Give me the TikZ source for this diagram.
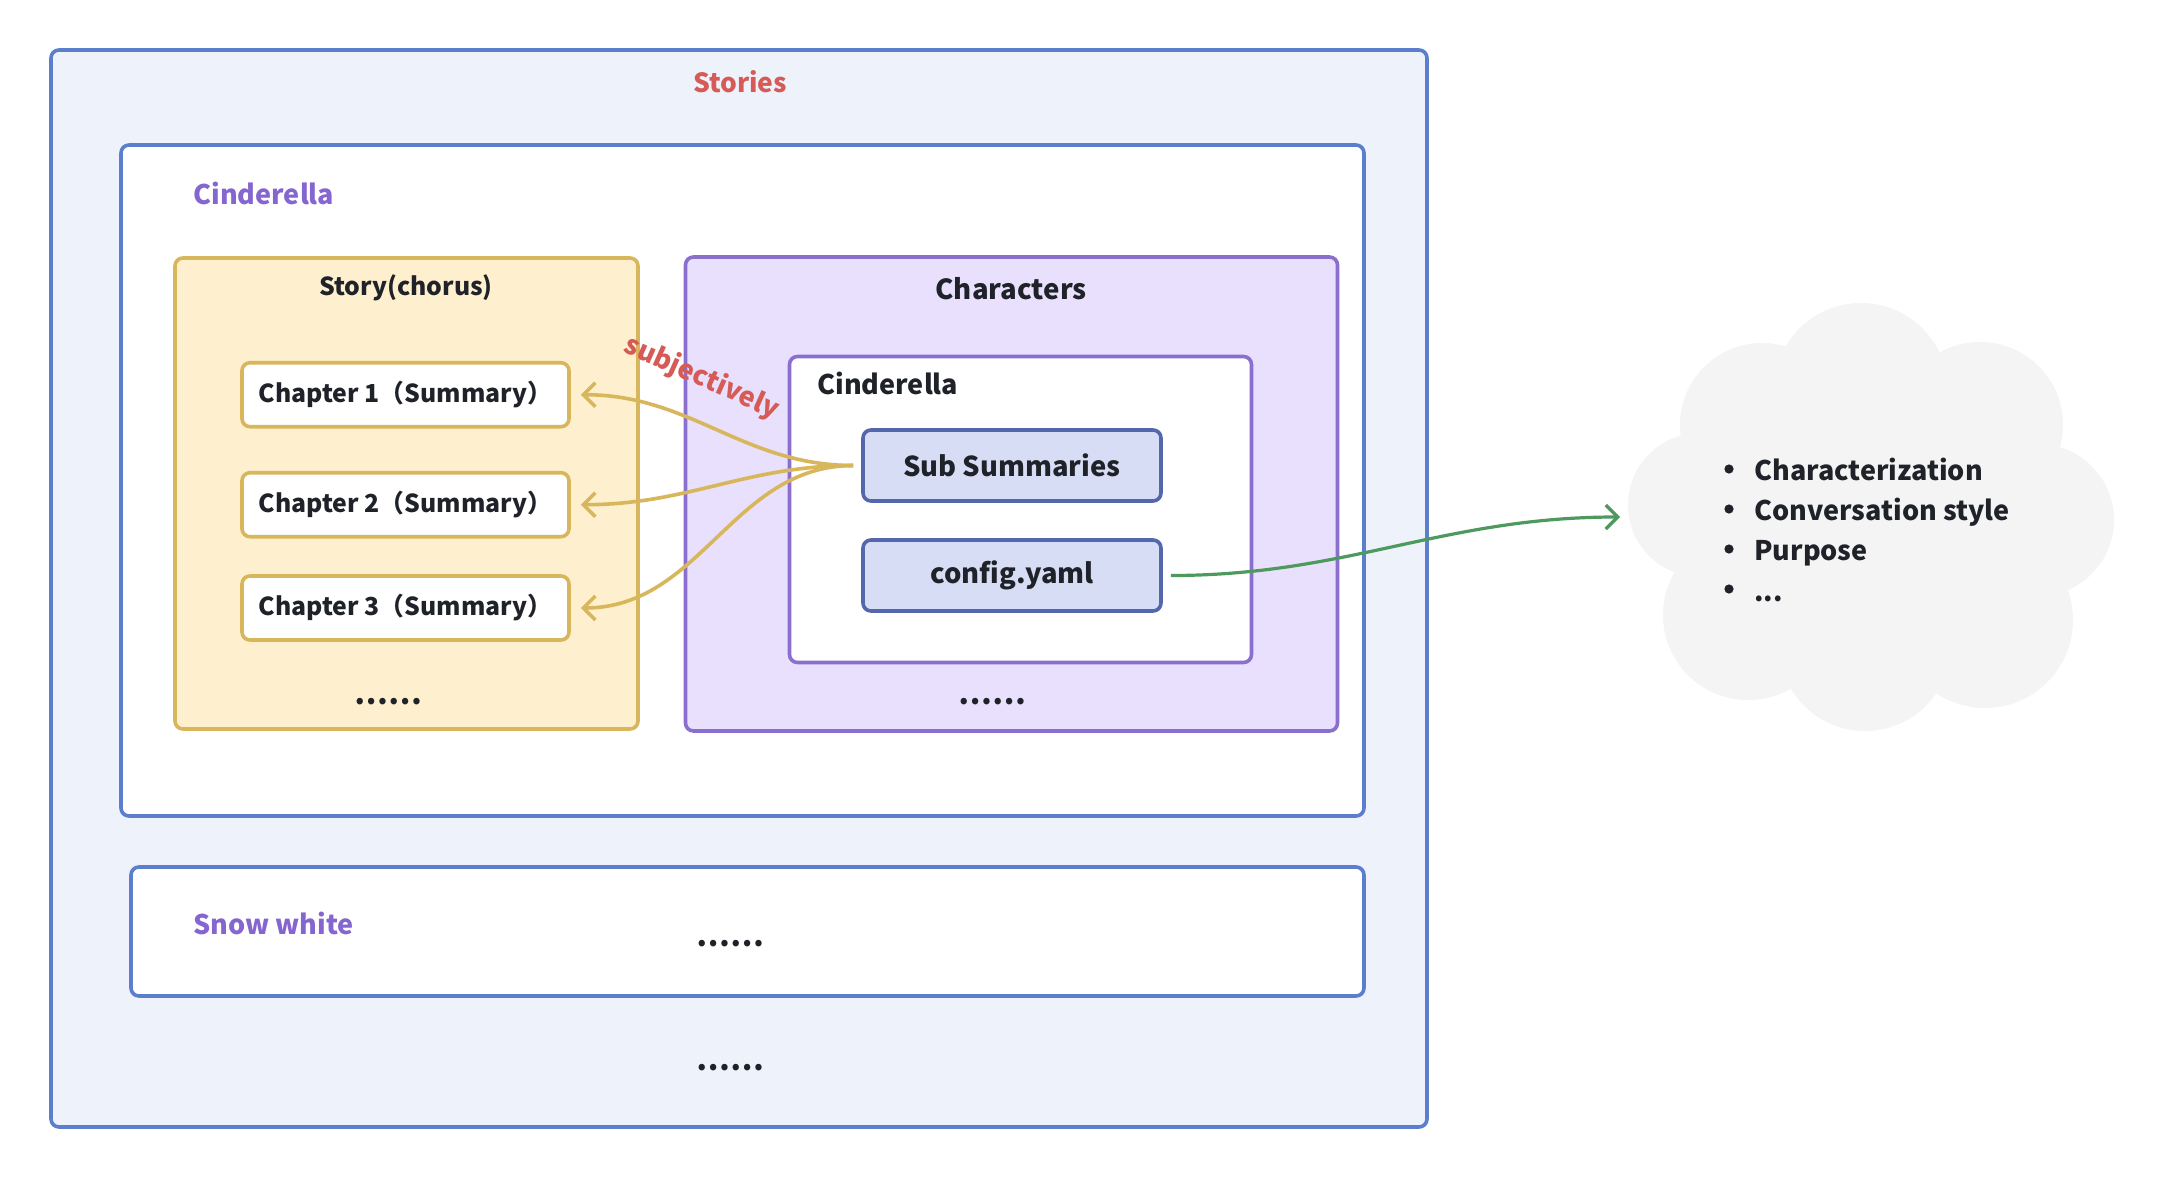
\documentclass[tikz,border=0pt]{standalone}
\usepackage{fontspec}
\setmainfont{Noto Sans CJK SC}
\usetikzlibrary{arrows.meta}
\definecolor{outerfill}{HTML}{EEF2FB}
\definecolor{outerline}{HTML}{5B7FCC}
\definecolor{redtxt}{HTML}{D65A55}
\definecolor{purptxt}{HTML}{8565CF}
\definecolor{goldline}{HTML}{D8B65C}
\definecolor{goldfill}{HTML}{FEF0CE}
\definecolor{purpline}{HTML}{8A6FCF}
\definecolor{purpfill}{HTML}{E8E0FC}
\definecolor{subfill}{HTML}{D7DDF4}
\definecolor{subline}{HTML}{5466AC}
\definecolor{darktxt}{HTML}{1F2329}
\definecolor{greenline}{HTML}{4E9A5E}
\definecolor{cloudfill}{HTML}{F4F4F4}
\begin{document}
\begin{tikzpicture}[x=0.5pt,y=-0.5pt,
  box/.style={draw, line width=1.8pt, rounded corners=4pt, inner sep=0pt},
  bluebox/.style={box, draw=outerline},
  goldbox/.style={box, draw=goldline, fill=goldfill},
  purpbox/.style={box, draw=purpline, fill=purpfill},
  chapbox/.style={box, draw=goldline, fill=white, minimum width=163.5pt, minimum height=32pt,
    font=\bfseries\fontsize{12.4pt}{15pt}\selectfont, text=darktxt},
  subbox/.style={box, draw=subline, fill=subfill, minimum width=149pt, minimum height=35.5pt,
    font=\bfseries\fontsize{13.7pt}{17pt}\selectfont, text=darktxt},
  title/.style={font=\bfseries\fontsize{12.4pt}{15pt}\selectfont, text=darktxt, inner sep=0pt},
  bigtitle/.style={font=\bfseries\fontsize{13.8pt}{17pt}\selectfont, inner sep=0pt},
  dots/.style={font=\bfseries\fontsize{15pt}{17pt}\selectfont, text=darktxt, inner sep=0pt},
  goldarrow/.style={draw=goldline, line width=1.8pt, -{Straight Barb[length=6pt,width=12pt]}},
  greenarrow/.style={draw=greenline, line width=1.6pt, -{Straight Barb[length=6pt,width=12pt]}},
  listtxt/.style={font=\bfseries\fontsize{13.5pt}{16pt}\selectfont, text=darktxt, inner sep=0pt, anchor=base west}
]
\useasboundingbox (0,0) rectangle (2160,1178);
\fill[white] (0,0) rectangle (2160,1178);

% outer stories box
\node[bluebox, fill=outerfill, minimum width=688pt, minimum height=538.5pt] (stories) at (739,588.5) {};
\node[bigtitle, text=redtxt, font=\bfseries\fontsize{13.2pt}{16pt}\selectfont] (storiestxt) at (740,82) {Stories};

% Cinderella box
\node[bluebox, fill=white, minimum width=621.5pt, minimum height=335.5pt] (cind) at (742.5,480.5) {};
\node[bigtitle, text=purptxt, anchor=west, font=\bfseries\fontsize{13.5pt}{16pt}\selectfont] (cindtxt) at (193,193) {Cinderella};

% Story(chorus)
\node[goldbox, minimum width=231.5pt, minimum height=235.5pt] (story) at (406.5,493.5) {};
\node[title] (storytxt) at (406,288) {Story(chorus)};
\node[chapbox] (ch1) at (405.5,394.7) {Chapter 1（Summary）};
\node[chapbox] (ch2) at (405.5,504.7) {Chapter 2（Summary）};
\node[chapbox] (ch3) at (405.5,608) {Chapter 3（Summary）};
\node[dots] (storydots) at (388.5,702) {……};

% Characters
\node[purpbox, minimum width=326pt, minimum height=237pt] (chars) at (1011.5,494) {};
\node[bigtitle, text=darktxt] (charstxt) at (1011,289) {Characters};
\node[box, draw=purpline, fill=white, minimum width=231pt, minimum height=153pt] (icind) at (1020.5,509.5) {};
\node[title, anchor=west, font=\bfseries\fontsize{13.5pt}{16pt}\selectfont] (icindtxt) at (817,383) {Cinderella};
\node[subbox] (sub) at (1012,465.5) {Sub Summaries};
\node[subbox] (cfg) at (1012,575.5) {config.yaml};
\node[dots] (charsdots) at (992,702) {……};

% Snow white
\node[bluebox, fill=white, minimum width=616.5pt, minimum height=64.5pt] (snow) at (747.5,931.5) {};
\node[bigtitle, text=purptxt, anchor=west, font=\bfseries\fontsize{13.5pt}{16pt}\selectfont] (snowtxt) at (193,923) {Snow white};
\node[dots] (snowdots) at (730,944) {……};
\node[dots] (moredots) at (730,1068) {……};

% gold arrows
\coordinate (src) at ([xshift=-4pt]sub.west);
\draw[goldarrow] (src) to[out=180,in=0] ([xshift=5pt]ch1.east);
\draw[goldarrow] (src) to[out=180,in=0] ([xshift=5pt]ch2.east);
\draw[goldarrow] (src) to[out=180,in=0] ([xshift=5pt]ch3.east);
\node[font=\bfseries\fontsize{13.5pt}{16pt}\selectfont, text=redtxt, rotate=-24, inner sep=0pt] (subj) at (702,378) {subjectively};

% cloud
\begin{scope}
\fill[cloudfill] (1861,390) circle[radius=43.5pt];
\fill[cloudfill] (1762,425) circle[radius=41pt];
\fill[cloudfill] (1700,505) circle[radius=36pt];
\fill[cloudfill] (1748,615) circle[radius=42.5pt];
\fill[cloudfill] (1865,645) circle[radius=43pt];
\fill[cloudfill] (1985,620) circle[radius=44pt];
\fill[cloudfill] (2038,520) circle[radius=38pt];
\fill[cloudfill] (1980,425) circle[radius=41.5pt];
\fill[cloudfill] (1870,515) ellipse[x radius=90pt, y radius=78pt];
\end{scope}
\coordinate (cloudw) at (1620,517);
\draw[greenarrow] ([xshift=4pt]cfg.east) to[out=0,in=180] (cloudw);

\fill[darktxt] (1729,469) circle[radius=2.3pt];
\fill[darktxt] (1729,509) circle[radius=2.3pt];
\fill[darktxt] (1729,549) circle[radius=2.3pt];
\fill[darktxt] (1729,589) circle[radius=2.3pt];
\node[listtxt] (l1) at (1754,480) {Characterization};
\node[listtxt] (l2) at (1754,520) {Conversation style};
\node[listtxt] (l3) at (1754,560) {Purpose};
\node[listtxt] (l4) at (1754,601) {...};
\end{tikzpicture}
\end{document}
